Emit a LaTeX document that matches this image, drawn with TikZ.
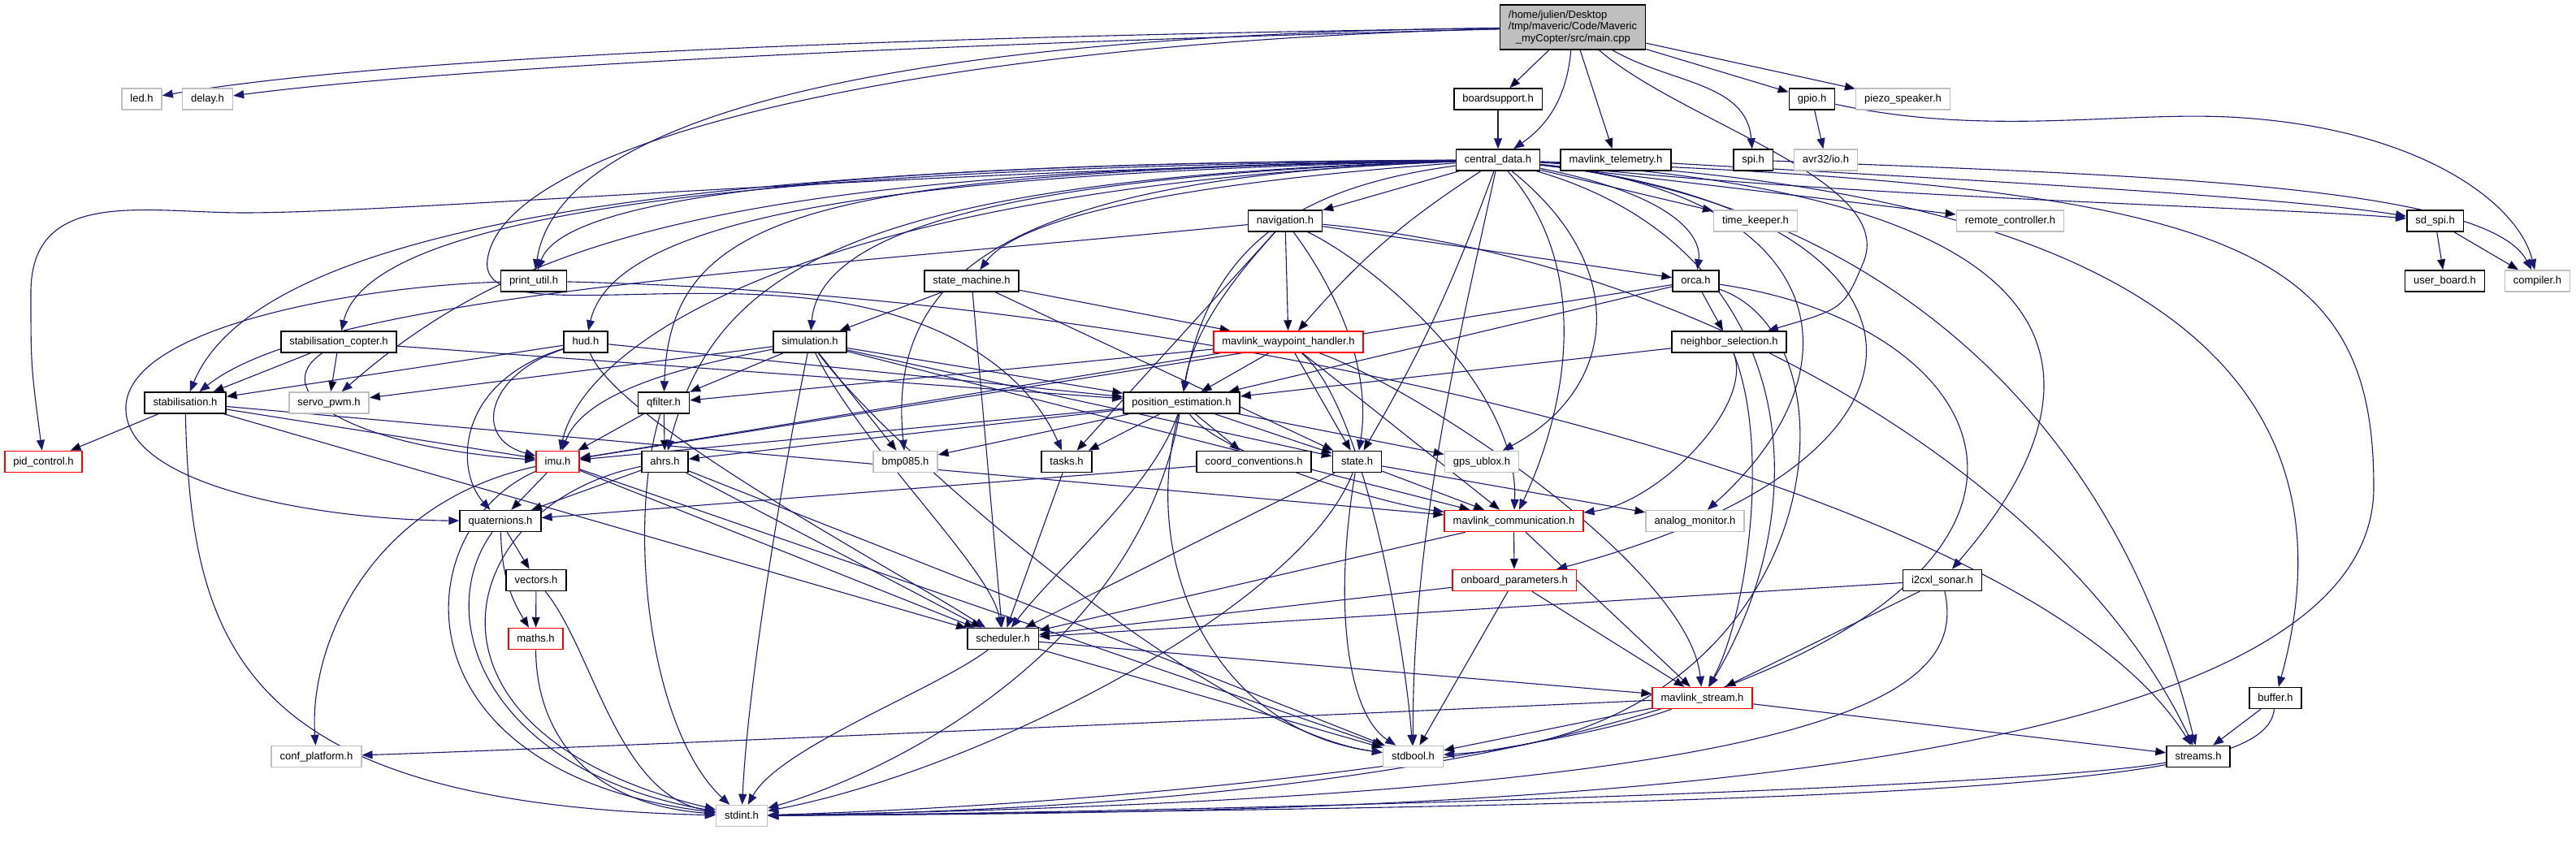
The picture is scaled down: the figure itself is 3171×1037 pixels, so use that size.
\documentclass[tikz,border=0pt]{standalone}
\usepackage{fontspec}
\setmainfont{Liberation Sans}
\usetikzlibrary{arrows.meta}
\definecolor{edgeblue}{RGB}{25,25,112}
\definecolor{boxgray}{RGB}{191,191,191}
\pgfdeclarelayer{bg}
\pgfsetlayers{bg,main}

\begin{document}
\begin{tikzpicture}[x=1pt, y=-1pt,
    hdr/.style={draw=black, line width=1.5pt, fill=white, font=\fontsize{13}{14.7}\selectfont,
        inner xsep=10.5pt, inner ysep=0pt, text height=9.5pt, text depth=2.5pt, minimum height=26pt},
    redhdr/.style={hdr, draw=red},
    grayhdr/.style={hdr, draw=boxgray},
    mainhdr/.style={draw=black, line width=1.5pt, fill=boxgray, font=\fontsize{13}{14.7}\selectfont,
        align=left, inner xsep=10.5pt, minimum height=55pt},
    dep/.style={draw=edgeblue, line width=1.1pt, -{Triangle[length=13pt, width=10pt]}},
]
\useasboundingbox (0,0) rectangle (3171,1037);

% Headers, row by row
\node[mainhdr] (main) at (1936,33.5) {/home/julien/Desktop\\/tmp/maveric/Code/Maveric\\\hspace*{9pt}\_myCopter/src/main.cpp};

\node[grayhdr] (led) at (174.5,122) {led.h};
\node[grayhdr] (delay) at (255.5,122) {delay.h};
\node[hdr] (boardsupport) at (1844,122) {boardsupport.h};
\node[hdr] (gpio) at (2230.5,122) {gpio.h};
\node[grayhdr] (piezo) at (2342.5,122) {piezo\_speaker.h};

\node[hdr] (central) at (1844,197) {central\_data.h};
\node[hdr] (telemetry) at (1989,197) {mavlink\_telemetry.h};
\node[hdr] (spi) at (2158,197) {spi.h};
\node[grayhdr] (avrio) at (2247.5,197) {avr32/io.h};

\node[hdr] (navigation) at (1582,272) {navigation.h};
\node[grayhdr] (timekeeper) at (2161,272) {time\_keeper.h};
\node[grayhdr] (remote) at (2474.5,272) {remote\_controller.h};
\node[hdr] (sdspi) at (2997.5,272) {sd\_spi.h};

\node[hdr] (printutil) at (657,346) {print\_util.h};
\node[hdr] (statemachine) at (1196,346) {state\_machine.h};
\node[hdr] (orca) at (2087.5,346) {orca.h};
\node[hdr] (userboard) at (3009.5,346) {user\_board.h};
\node[grayhdr] (compiler) at (3123.5,346) {compiler.h};

\node[hdr] (stabcopter) at (417,421) {stabilisation\_copter.h};
\node[hdr] (hud) at (721,421) {hud.h};
\node[hdr] (simulation) at (997,421) {simulation.h};
\node[redhdr] (waypoint) at (1586,421) {mavlink\_waypoint\_handler.h};
\node[hdr] (neighbor) at (2128.5,421) {neighbor\_selection.h};

\node[hdr] (stab) at (228,496) {stabilisation.h};
\node[grayhdr] (servo) at (405,496) {servo\_pwm.h};
\node[hdr] (qfilter) at (817,496) {qfilter.h};
\node[hdr] (posest) at (1454.5,496) {position\_estimation.h};

\node[redhdr] (pid) at (53.5,568.5) {pid\_control.h};
\node[redhdr] (imu) at (686.5,568.5) {imu.h};
\node[hdr] (ahrs) at (818.5,568.5) {ahrs.h};
\node[grayhdr] (bmp) at (1114.5,568.5) {bmp085.h};
\node[hdr] (tasks) at (1313,568.5) {tasks.h};
\node[hdr] (coord) at (1543.5,568.5) {coord\_conventions.h};
\node[hdr] (state) at (1670.5,568.5) {state.h};
\node[grayhdr] (gps) at (1824,568.5) {gps\_ublox.h};

\node[hdr] (quat) at (616,641.5) {quaternions.h};
\node[redhdr] (mavcomm) at (1863.5,641.5) {mavlink\_communication.h};
\node[grayhdr] (analog) at (2086.5,641.5) {analog\_monitor.h};

\node[hdr] (vectors) at (660,714.5) {vectors.h};
\node[redhdr] (onboard) at (1864,714.5) {onboard\_parameters.h};
\node[hdr] (sonar) at (2391,714.5) {i2cxl\_sonar.h};

\node[redhdr] (maths) at (659.5,786.5) {maths.h};
\node[hdr] (scheduler) at (1234.5,786.5) {scheduler.h};

\node[redhdr] (stream) at (2095.5,859.5) {mavlink\_stream.h};
\node[hdr] (buffer) at (2801,859.5) {buffer.h};

\node[grayhdr] (confplat) at (389.5,931.5) {conf\_platform.h};
\node[grayhdr] (stdbool) at (1739.5,931.5) {stdbool.h};
\node[hdr] (streams) at (2706,931.5) {streams.h};

\node[grayhdr] (stdint) at (913,1004.5) {stdint.h};

\begin{pgfonlayer}{bg}
\fill[white] (0,0) rectangle (3171,1037);

% main.cpp
\draw[dep] (main) .. controls (1100,45) and (480,70) .. (led);
\draw[dep] (main) .. controls (1100,55) and (540,85) .. (delay);
\draw[dep] (main) .. controls (1150,42) and (690,130) .. (printutil);
\draw[dep] (main) .. controls (1150,52) and (620,170) .. (600,320) .. controls (590,395) and (800,345) .. (1000,368) .. controls (1180,388) and (1270,470) .. (tasks);
\draw[dep] (main) .. controls (2070,150) and (2330,220) .. (2295,320) .. controls (2270,380) .. (neighbor);
\draw[dep] (main) to[out=-30, in=95] (spi);
\draw[dep] (main) to[bend left=25] (central);
\draw[dep] (main) edge (boardsupport) edge (telemetry) edge (gpio) edge (piezo);

\draw[dep] (boardsupport) -- (central);
\draw[dep] (gpio) -- (avrio);
\draw[dep] (gpio) .. controls (2450,170) and (2620,135) .. (2760,145) .. controls (2980,160) and (3100,250) .. (compiler);
\draw[dep] (spi) .. controls (2600,215) and (3060,225) .. (compiler);
\draw[dep] (sdspi) edge (userboard) edge (compiler);
\draw[dep] (telemetry) .. controls (2300,215) and (2800,240) .. (sdspi);

% central_data.h, to the left
\draw[dep] (central) .. controls (1200,200) and (700,225) .. (printutil);
\draw[dep] (central) .. controls (1100,205) and (460,240) .. (stabcopter);
\draw[dep] (central) .. controls (1000,200) and (330,250) .. (stab);
\draw[dep] (central) .. controls (1100,210) and (500,262) .. (300,262) .. controls (180,262) and (38,230) .. (38,360) .. controls (38,450) .. (pid);
\draw[dep] (central) .. controls (1200,212) and (760,250) .. (hud);
\draw[dep] (central) .. controls (900,210) and (640,290) .. (servo);
\draw[dep] (central) .. controls (1000,212) and (825,260) .. (qfilter);
\draw[dep] (central) .. controls (1050,220) and (880,330) .. (ahrs);
\draw[dep] (central) .. controls (1000,230) and (720,420) .. (imu);
\draw[dep] (central) .. controls (1300,215) and (1010,270) .. (simulation);
\draw[dep] (central) .. controls (1250,218) and (1090,330) .. (bmp);
\draw[dep] (central) .. controls (1500,222) and (1260,260) .. (statemachine);

% central_data.h, to the right
\draw[dep] (central) edge (navigation) edge (timekeeper) edge (remote) edge[bend right=8] (waypoint) edge[bend left=5] (state);
\draw[dep] (central) .. controls (1600,230) and (1490,300) .. (posest);
\draw[dep] (central) .. controls (1960,330) and (1930,500) .. (mavcomm);
\draw[dep] (central) .. controls (2010,330) and (1990,480) .. (gps);
\draw[dep] (central) .. controls (1800,400) and (1738,650) .. (stdbool);
\draw[dep] (central) .. controls (2060,240) and (2095,290) .. (orca);
\draw[dep] (central) .. controls (2300,245) and (2800,255) .. (sdspi);
\draw[dep] (central) .. controls (2250,240) and (2300,450) .. (analog);
\draw[dep] (central) .. controls (2400,260) and (2450,560) .. (onboard);
\draw[dep] (central) .. controls (2550,240) and (2620,450) .. (sonar);
\draw[dep] (central) .. controls (2300,250) and (2600,500) .. (streams);
\draw[dep] (central) .. controls (2200,300) and (2250,600) .. (stream);
\draw[dep] (central) .. controls (2700,235) and (2900,500) .. (buffer);
\draw[dep] (central) .. controls (2750,230) and (2922,300) .. (2922,600) .. controls (2922,1000) and (1600,1000) .. (stdint);

% navigation.h
\draw[dep] (navigation) edge (waypoint) edge (orca) edge (tasks);
\draw[dep] (navigation) .. controls (1530,330) and (1470,400) .. (posest);
\draw[dep] (navigation) .. controls (1640,350) and (1690,450) .. (state);
\draw[dep] (navigation) .. controls (1700,330) and (1870,480) .. (mavcomm);
\draw[dep] (navigation) .. controls (1000,330) and (400,360) .. (stab);
\draw[dep] (navigation) .. controls (2100,320) and (2550,600) .. (streams);

% print_util.h, state_machine.h
\draw[dep] (printutil) .. controls (450,352) and (160,400) .. (155,500) .. controls (150,600) and (400,640) .. (quat);
\draw[dep] (printutil) .. controls (1500,365) and (2500,600) .. (streams);
\draw[dep] (statemachine) edge (simulation) edge (waypoint) edge (state) edge (scheduler);

% stabilisation_copter.h, hud.h
\draw[dep] (stabcopter) edge (stab) edge (servo) edge (posest);
\draw[dep] (stabcopter) .. controls (330,480) and (420,548) .. (imu);
\draw[dep] (hud) edge (stab) edge (posest);
\draw[dep] (hud) .. controls (600,460) and (580,540) .. (imu);
\draw[dep] (hud) .. controls (560,470) and (560,580) .. (quat);
\draw[dep] (hud) .. controls (760,520) and (1100,700) .. (scheduler);

% simulation.h
\draw[dep] (simulation) edge (qfilter) edge (servo) edge (posest) edge (bmp) edge (state) edge (mavcomm);
\draw[dep] (simulation) .. controls (850,450) and (720,480) .. (imu);
\draw[dep] (simulation) .. controls (1060,550) and (1220,700) .. (scheduler);
\draw[dep] (simulation) .. controls (960,600) and (920,850) .. (stdint);
\draw[dep] (simulation) .. controls (1100,560) and (1500,900) .. (stdbool);

% mavlink_waypoint_handler.h
\draw[dep] (waypoint) edge (posest) edge (qfilter) edge (imu) edge (state) edge (mavcomm);
\draw[dep] (waypoint) .. controls (1680,500) and (1730,800) .. (stdbool);
\draw[dep] (waypoint) .. controls (1750,480) and (2080,700) .. (stream);

% orca.h, neighbor_selection.h
\draw[dep] (orca) edge (neighbor) edge (posest) edge (imu);
\draw[dep] (orca) .. controls (2300,420) and (2250,900) .. (stdbool);
\draw[dep] (orca) .. controls (2600,420) and (2700,980) .. (stdint);
\draw[dep] (neighbor) edge (posest);
\draw[dep] (neighbor) .. controls (2160,500) and (2040,620) .. (mavcomm);
\draw[dep] (neighbor) .. controls (2180,550) and (2150,760) .. (stream);

% qfilter.h, position_estimation.h, stabilisation.h
\draw[dep] (qfilter) edge (imu) edge (ahrs);
\draw[dep] (qfilter) .. controls (770,650) and (800,900) .. (stdint);
\draw[dep] (posest) edge (imu) edge (ahrs) edge (bmp) edge (tasks) edge (coord) edge (state) edge (gps);
\draw[dep] (posest) .. controls (1500,560) and (1700,620) .. (mavcomm);
\draw[dep] (posest) .. controls (1400,700) and (1500,900) .. (stdbool);
\draw[dep] (posest) .. controls (1420,600) and (1300,700) .. (scheduler);
\draw[dep] (posest) .. controls (1400,800) and (1100,950) .. (stdint);
\draw[dep] (stab) edge (pid) edge (imu) edge (mavcomm) edge (scheduler);
\draw[dep] (stab) .. controls (235,800) and (300,990) .. (stdint);

% imu.h, ahrs.h, maths
\draw[dep] (imu) edge (quat) edge (scheduler) edge (stdbool);
\draw[dep] (imu) .. controls (450,620) and (380,800) .. (confplat);
\draw[dep] (imu) .. controls (500,650) and (480,950) .. (stdint);
\draw[dep] (ahrs) edge (quat) edge (scheduler) edge (stdbool);
\draw[dep] (ahrs) .. controls (560,620) and (480,900) .. (stdint);
\draw[dep] (quat) edge (vectors) edge[bend right=15] (maths);
\draw[dep] (quat) .. controls (530,760) and (600,950) .. (stdint);
\draw[dep] (vectors) edge (maths);
\draw[dep] (vectors) .. controls (730,800) and (760,980) .. (stdint);
\draw[dep] (maths) .. controls (660,900) and (720,990) .. (stdint);

% lower layers
\draw[dep] (tasks) -- (scheduler);
\draw[dep] (coord) -- (quat);
\draw[dep] (state) edge (mavcomm) edge (analog) edge (scheduler);
\draw[dep] (state) .. controls (1640,750) and (1660,880) .. (stdbool);
\draw[dep] (state) .. controls (1600,750) and (1200,950) .. (stdint);
\draw[dep] (mavcomm) edge (onboard) edge (stream) edge (scheduler);
\draw[dep] (onboard) edge (stream) edge (scheduler) edge (stdbool);
\draw[dep] (sonar) edge (scheduler) edge (stream);
\draw[dep] (sonar) .. controls (2420,850) and (2300,980) .. (stdint);
\draw[dep] (scheduler) edge (stream) edge (stdbool);
\draw[dep] (scheduler) .. controls (1150,850) and (960,920) .. (stdint);
\draw[dep] (stream) edge (stdbool) edge (streams);
\draw[dep] (stream) .. controls (1900,930) and (1400,990) .. (stdint);
\draw[dep] (stream) .. controls (1200,900) and (600,925) .. (confplat);
\draw[dep] (buffer) -- (streams);
\draw[dep] (buffer) .. controls (2790,960) and (2500,990) .. (stdint);
\draw[dep] (streams) .. controls (2500,970) and (1500,1000) .. (stdint);
\end{pgfonlayer}

\end{tikzpicture}
\end{document}
